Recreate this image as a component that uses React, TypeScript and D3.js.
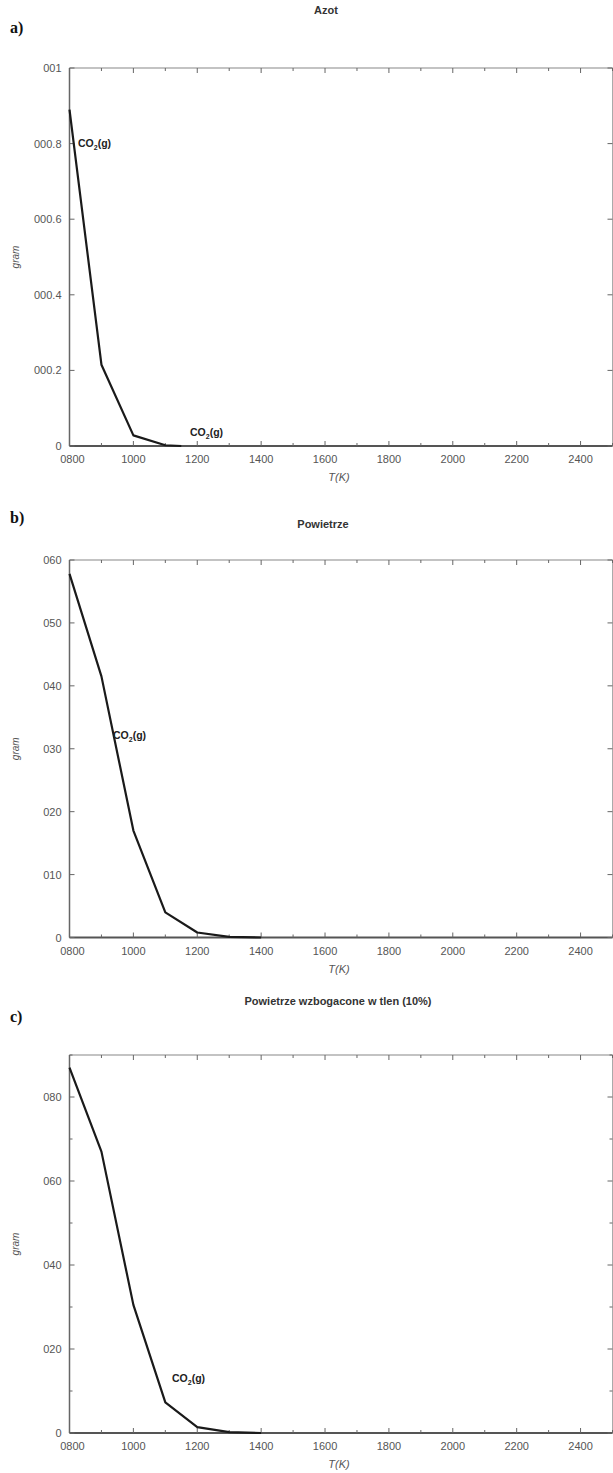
import React from "react";
import * as d3 from "d3";

// ---------- data ----------
const xTickValues = [800, 1000, 1200, 1400, 1600, 1800, 2000, 2200, 2400];
const xTickLabels = ["0800", "1000", "1200", "1400", "1600", "1800", "2000", "2200", "2400"];
const xMinorTicks = [900, 1100, 1300, 1500, 1700, 1900, 2100, 2300, 2500];

const azotTemps = [800, 900, 1000, 1100, 1150];
const azotValues = [0.89, 0.215, 0.028, 0.002, 0];
const azotYTicks = [0, 0.2, 0.4, 0.6, 0.8, 1];
const azotYLabels = ["0", "000.2", "000.4", "000.6", "000.8", "001"];

const powTemps = [800, 900, 1000, 1100, 1200, 1300, 1400];
const powValues = [57.8, 41.5, 17, 4.0, 0.8, 0.1, 0];
const powYTicks = [0, 10, 20, 30, 40, 50, 60];
const powYLabels = ["0", "010", "020", "030", "040", "050", "060"];

const wzbTemps = [800, 900, 1000, 1100, 1200, 1300, 1400];
const wzbValues = [87, 67, 30.5, 7.3, 1.4, 0.2, 0];
const wzbYTicks = [0, 20, 40, 60, 80];
const wzbYLabels = ["0", "020", "040", "060", "080"];
const wzbYMinor = [10, 30, 50, 70, 90];

const titles = ["Azot", "Powietrze", "Powietrze wzbogacone w tlen (10%)"];
const panelLetters = ["a)", "b)", "c)"];

// ---------- layout ----------
const W = 613;
const H = 1473;
const LEFT = 69.5;
const RIGHT = 612.5;

const SANS = "'Liberation Sans', Arial, sans-serif";

type Label = { x: number; y: number };

type Panel = {
  temps: number[];
  values: number[];
  yMax: number;
  yTicks: number[];
  yLabels: string[];
  yMinor: number[];
  top: number;
  bottom: number;
  title: string;
  titleX: number;
  titleY: number;
  letter: string;
  letterY: number;
  labels: Label[];
};

const panels: Panel[] = [
  {
    temps: azotTemps, values: azotValues, yMax: 1, yTicks: azotYTicks, yLabels: azotYLabels, yMinor: [],
    top: 68, bottom: 446, title: titles[0], titleX: 326, titleY: 14, letter: panelLetters[0], letterY: 33,
    labels: [{ x: 78, y: 147 }, { x: 190, y: 436 }],
  },
  {
    temps: powTemps, values: powValues, yMax: 60, yTicks: powYTicks, yLabels: powYLabels, yMinor: [],
    top: 560, bottom: 937.5, title: titles[1], titleX: 323, titleY: 528, letter: panelLetters[1], letterY: 523,
    labels: [{ x: 113, y: 739 }],
  },
  {
    temps: wzbTemps, values: wzbValues, yMax: 90, yTicks: wzbYTicks, yLabels: wzbYLabels, yMinor: wzbYMinor,
    top: 1055, bottom: 1433, title: titles[2], titleX: 338, titleY: 1005, letter: panelLetters[2], letterY: 1022,
    labels: [{ x: 172, y: 1382 }],
  },
];

const x = d3.scaleLinear().domain([800, 2500]).range([LEFT, RIGHT]);

function CO2Label({ x: lx, y: ly }: Label) {
  return (
    <text x={lx} y={ly} fontFamily={SANS} fontWeight="bold" fontSize={10.5} fill="#222">
      CO
      <tspan fontSize={7} dy={3}>2</tspan>
      <tspan dy={-3}>(g)</tspan>
    </text>
  );
}

function PanelView({ p }: { p: Panel }) {
  const y = d3.scaleLinear().domain([0, p.yMax]).range([p.bottom, p.top]);
  const line = d3
    .line<number>()
    .x((_, i) => x(p.temps[i]))
    .y((d) => y(d));
  const pathD = line(p.values) || "";
  const major = 5;
  const minor = 3;
  const axisCol = "#666";
  return (
    <g>
      <text x={10} y={p.letterY} fontFamily="'Liberation Serif', 'DejaVu Serif', serif" fontWeight="bold" fontSize={16} fill="#111">
        {p.letter}
      </text>
      <text x={p.titleX} y={p.titleY} textAnchor="middle" fontFamily={SANS} fontWeight="bold" fontSize={11} fill="#333">
        {p.title}
      </text>
      {/* frame */}
      <line x1={LEFT} x2={RIGHT} y1={p.top} y2={p.top} stroke="#888" strokeWidth={1.2} />
      <line x1={RIGHT} x2={RIGHT} y1={p.top} y2={p.bottom} stroke="#aaa" strokeWidth={1} />
      <line x1={LEFT} x2={LEFT} y1={p.top} y2={p.bottom} stroke={axisCol} strokeWidth={1.5} />
      <line x1={LEFT} x2={RIGHT} y1={p.bottom} y2={p.bottom} stroke="#555" strokeWidth={1.8} />
      {/* x ticks */}
      {xTickValues.map((t, i) => (
        <g key={"xt" + i}>
          <line x1={x(t)} x2={x(t)} y1={p.bottom} y2={p.bottom - major} stroke={axisCol} />
          <line x1={x(t)} x2={x(t)} y1={p.top} y2={p.top + major} stroke={axisCol} />
          <text x={x(t) + (i === 0 ? 3 : 0)} y={p.bottom + 17} textAnchor="middle" fontFamily={SANS} fontSize={11} fill="#555">
            {xTickLabels[i]}
          </text>
        </g>
      ))}
      {xMinorTicks.map((t, i) => (
        <g key={"xm" + i}>
          <line x1={x(t)} x2={x(t)} y1={p.bottom} y2={p.bottom - minor} stroke={axisCol} />
          <line x1={x(t)} x2={x(t)} y1={p.top} y2={p.top + minor} stroke={axisCol} />
        </g>
      ))}
      {/* y ticks */}
      {p.yTicks.map((t, i) => (
        <g key={"yt" + i}>
          <line x1={LEFT} x2={LEFT + major} y1={y(t)} y2={y(t)} stroke={axisCol} />
          <line x1={RIGHT} x2={RIGHT - major} y1={y(t)} y2={y(t)} stroke={axisCol} />
          <text x={LEFT - 8} y={y(t) + 4} textAnchor="end" fontFamily={SANS} fontSize={11} fill="#555">
            {p.yLabels[i]}
          </text>
        </g>
      ))}
      {p.yMinor.map((t, i) => (
        <g key={"ym" + i}>
          <line x1={LEFT} x2={LEFT + minor} y1={y(t)} y2={y(t)} stroke={axisCol} />
          <line x1={RIGHT} x2={RIGHT - minor} y1={y(t)} y2={y(t)} stroke={axisCol} />
        </g>
      ))}
      {/* axis titles */}
      <text
        x={0}
        y={0}
        transform={`translate(${19},${(p.top + p.bottom) / 2}) rotate(-90)`}
        textAnchor="middle"
        fontFamily={SANS}
        fontStyle="italic"
        fontSize={10}
        fill="#555"
      >
        gram
      </text>
      <text x={339} y={p.bottom + 35} textAnchor="middle" fontFamily={SANS} fontStyle="italic" fontSize={11} fill="#555">
        T(K)
      </text>
      {/* series */}
      <path d={pathD} fill="none" stroke="#1a1a1a" strokeWidth={2.2} strokeLinejoin="round" />
      {p.labels.map((l, i) => (
        <CO2Label key={"lb" + i} x={l.x} y={l.y} />
      ))}
    </g>
  );
}

export default function App() {
  return (
    <svg
      width={W}
      height={H}
      viewBox={`0 0 ${W} ${H}`}
      style={{ position: "absolute", left: 0, top: 0, background: "#fff" }}
    >
      <rect x={0} y={0} width={W} height={H} fill="#fff" />
      {panels.map((p, i) => (
        <PanelView key={i} p={p} />
      ))}
    </svg>
  );
}
